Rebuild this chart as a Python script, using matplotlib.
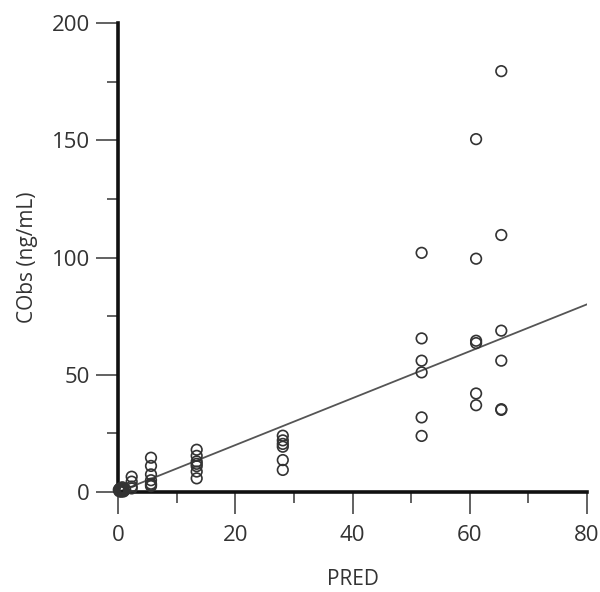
import matplotlib
matplotlib.use("Agg")
import matplotlib.pyplot as plt
import numpy as np
from matplotlib.ticker import MultipleLocator

plt.rcParams['font.family'] = ['Open Sans', 'DejaVu Sans']

# observed vs predicted
pred = [0.2, 0.4, 0.6, 0.8, 1.0, 0.3, 0.5, 0.7, 1.2, 0.1, 0.9, 0.4, 0.6, 0.2,
        2.3, 2.3, 2.3, 2.3,
        5.6, 5.6, 5.6, 5.6, 5.6, 5.6, 5.6,
        13.4, 13.4, 13.4, 13.4, 13.4, 13.4, 13.4,
        28.1, 28.1, 28.1, 28.1, 28.1, 28.1,
        51.8, 51.8, 51.8, 51.8, 51.8, 51.8,
        61.1, 61.1, 61.1, 61.1, 61.1, 61.1,
        65.4, 65.4, 65.4, 65.4, 65.4, 65.4]
cobs = [0.3, 0.8, 0.5, 1.2, 0.6, 1.5, 0.1, 2.0, 1.0, 0.9, 0.2, 0.4, 1.6, 1.1,
        6.5, 4.4, 2.3, 1.5,
        14.6, 11.1, 7.5, 5.0, 3.5, 3.0, 2.5,
        18.0, 15.4, 13.0, 12.0, 11.0, 8.7, 5.8,
        24.0, 22.0, 20.5, 19.3, 13.6, 9.4,
        102.0, 65.5, 56.0, 51.0, 31.8, 23.9,
        150.5, 99.5, 64.5, 63.5, 42.0, 37.0,
        179.5, 109.6, 68.8, 56.0, 35.3, 35.0]
line_x = [0, 80]
line_y = [0, 80]

fig = plt.figure(figsize=(6.0, 5.92), dpi=100)
ax = fig.add_axes([0.197, 0.169, 0.781, 0.792])

ax.plot(line_x, line_y, color='#555555', lw=1.3, zorder=2)
ax.scatter(pred, cobs, s=58, facecolors='none', edgecolors='#333333',
           linewidths=1.2, zorder=3, clip_on=False)

ax.set_xlim(0, 80)
ax.set_ylim(0, 200)
ax.xaxis.set_major_locator(MultipleLocator(20))
ax.xaxis.set_minor_locator(MultipleLocator(10))
ax.yaxis.set_major_locator(MultipleLocator(50))
ax.yaxis.set_minor_locator(MultipleLocator(25))

for s in ['top', 'right']:
    ax.spines[s].set_visible(False)
for s in ['left', 'bottom']:
    ax.spines[s].set_linewidth(2.6)
    ax.spines[s].set_color('#111111')

ax.tick_params(which='major', direction='out', length=16, width=1.3,
               color='#555555', labelsize=16, labelcolor='#333333', pad=4.5)
ax.tick_params(axis='x', which='major', pad=8)
ax.tick_params(which='minor', direction='out', length=8, width=1.3,
               color='#555555')

ax.set_xlabel('PRED', fontsize=15, color='#333333', labelpad=16)
ax.set_ylabel('CObs (ng/mL)', fontsize=15, color='#333333', labelpad=10)

fig.savefig('out.png', dpi=100)
